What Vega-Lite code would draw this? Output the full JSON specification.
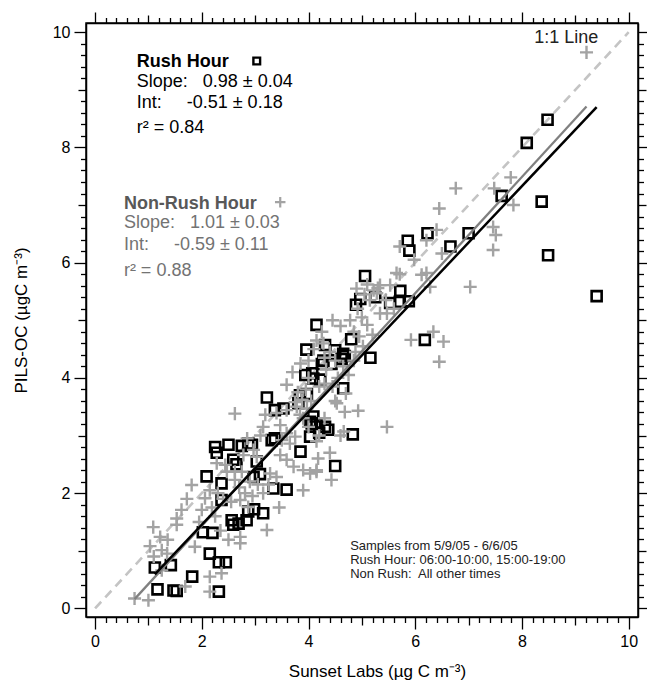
{
  "$schema": "https://vega.github.io/schema/vega-lite/v6.json",
  "width": 552,
  "height": 594,
  "autosize": {"type": "none"},
  "padding": {"left": 86, "top": 23, "right": 9, "bottom": 66},
  "background": "white",
  "config": {
    "view": {"stroke": "black", "strokeWidth": 1.5},
    "font": "Liberation Sans",
    "axis": {
      "grid": false,
      "tickColor": "black",
      "domainColor": "black",
      "domainWidth": 1.5,
      "tickWidth": 1.3,
      "labelFont": "Liberation Sans",
      "titleFont": "Liberation Sans",
      "labelFontSize": 16,
      "titleFontSize": 17,
      "titleFontWeight": "normal",
      "labelColor": "black",
      "titleColor": "black",
      "labelOverlap": false,
      "labelFlush": false,
      "labelPadding": 4
    }
  },
  "datasets": {
    "rush": [
      {"x": 8.48, "y": 8.48}, {"x": 8.09, "y": 8.08}, {"x": 7.62, "y": 7.16}, {"x": 8.37, "y": 7.06},
      {"x": 8.49, "y": 6.13}, {"x": 9.40, "y": 5.42}, {"x": 6.23, "y": 6.51}, {"x": 7.00, "y": 6.51},
      {"x": 6.66, "y": 6.28}, {"x": 5.86, "y": 6.38}, {"x": 5.89, "y": 6.21}, {"x": 5.06, "y": 5.77},
      {"x": 4.97, "y": 5.37}, {"x": 5.25, "y": 5.40}, {"x": 5.72, "y": 5.51}, {"x": 4.89, "y": 5.27},
      {"x": 5.53, "y": 5.30}, {"x": 5.71, "y": 5.32}, {"x": 5.88, "y": 5.33}, {"x": 6.18, "y": 4.66},
      {"x": 5.16, "y": 4.35}, {"x": 4.68, "y": 4.38}, {"x": 4.80, "y": 4.67}, {"x": 4.65, "y": 3.82},
      {"x": 4.83, "y": 3.02}, {"x": 4.50, "y": 2.47}, {"x": 4.15, "y": 4.92}, {"x": 3.96, "y": 4.49},
      {"x": 4.31, "y": 4.57}, {"x": 4.50, "y": 4.48}, {"x": 4.65, "y": 4.42}, {"x": 4.25, "y": 4.24},
      {"x": 4.43, "y": 4.24}, {"x": 4.62, "y": 4.33}, {"x": 4.28, "y": 4.30}, {"x": 3.94, "y": 4.05},
      {"x": 4.07, "y": 4.08}, {"x": 3.22, "y": 3.66}, {"x": 3.37, "y": 3.44}, {"x": 3.53, "y": 3.47},
      {"x": 3.81, "y": 3.56}, {"x": 4.09, "y": 3.33}, {"x": 4.06, "y": 3.21}, {"x": 4.31, "y": 3.15},
      {"x": 4.37, "y": 3.10}, {"x": 4.20, "y": 3.05}, {"x": 4.15, "y": 3.20}, {"x": 3.85, "y": 2.72},
      {"x": 3.34, "y": 2.08}, {"x": 3.59, "y": 2.06}, {"x": 3.15, "y": 1.65}, {"x": 2.98, "y": 1.72},
      {"x": 3.31, "y": 2.92}, {"x": 2.87, "y": 2.86}, {"x": 2.94, "y": 2.84}, {"x": 2.75, "y": 2.82},
      {"x": 2.50, "y": 2.84}, {"x": 2.25, "y": 2.80}, {"x": 2.28, "y": 2.70}, {"x": 2.65, "y": 2.50},
      {"x": 2.09, "y": 2.29}, {"x": 2.37, "y": 2.17}, {"x": 3.09, "y": 2.33}, {"x": 2.97, "y": 2.28},
      {"x": 2.37, "y": 1.88}, {"x": 2.56, "y": 1.53}, {"x": 2.69, "y": 1.47}, {"x": 2.59, "y": 1.45},
      {"x": 2.84, "y": 1.53}, {"x": 2.87, "y": 1.68}, {"x": 2.15, "y": 0.95}, {"x": 2.32, "y": 0.80},
      {"x": 2.45, "y": 0.80}, {"x": 2.02, "y": 1.32}, {"x": 2.20, "y": 1.31}, {"x": 1.12, "y": 0.71},
      {"x": 1.42, "y": 0.75}, {"x": 1.82, "y": 0.55}, {"x": 1.17, "y": 0.33}, {"x": 1.47, "y": 0.31},
      {"x": 1.53, "y": 0.30}, {"x": 2.32, "y": 0.29}, {"x": 3.37, "y": 2.95}, {"x": 4.03, "y": 2.98},
      {"x": 4.03, "y": 3.24}, {"x": 2.59, "y": 2.58}, {"x": 3.03, "y": 2.55}, {"x": 3.97, "y": 3.72},
      {"x": 3.84, "y": 3.70}, {"x": 4.09, "y": 3.99}, {"x": 4.22, "y": 3.97}
    ],
    "nonrush": [
      {"x": 9.21, "y": 9.65}, {"x": 7.79, "y": 7.48}, {"x": 7.48, "y": 7.29}, {"x": 7.84, "y": 7.00},
      {"x": 6.76, "y": 7.29}, {"x": 6.45, "y": 6.94}, {"x": 6.40, "y": 6.57}, {"x": 7.46, "y": 6.62},
      {"x": 7.51, "y": 6.48}, {"x": 7.46, "y": 6.22}, {"x": 5.71, "y": 6.28}, {"x": 6.50, "y": 6.16},
      {"x": 6.21, "y": 6.39}, {"x": 5.98, "y": 6.05}, {"x": 5.71, "y": 5.80}, {"x": 6.12, "y": 5.79},
      {"x": 6.21, "y": 5.82}, {"x": 7.03, "y": 5.58}, {"x": 5.30, "y": 5.56}, {"x": 5.53, "y": 5.61},
      {"x": 6.28, "y": 5.58}, {"x": 5.92, "y": 4.66}, {"x": 6.34, "y": 4.80}, {"x": 6.53, "y": 4.63},
      {"x": 6.45, "y": 4.28}, {"x": 4.70, "y": 3.73}, {"x": 4.68, "y": 3.41}, {"x": 4.93, "y": 3.43},
      {"x": 5.47, "y": 3.15}, {"x": 4.66, "y": 3.07}, {"x": 5.65, "y": 5.82}, {"x": 5.34, "y": 5.61},
      {"x": 5.22, "y": 5.52}, {"x": 5.10, "y": 5.62}, {"x": 5.28, "y": 5.47}, {"x": 5.15, "y": 5.35},
      {"x": 5.34, "y": 5.12}, {"x": 5.47, "y": 5.12}, {"x": 4.78, "y": 5.00}, {"x": 4.85, "y": 4.80},
      {"x": 4.95, "y": 4.72}, {"x": 5.10, "y": 4.92}, {"x": 5.20, "y": 4.75}, {"x": 5.00, "y": 5.05},
      {"x": 4.92, "y": 5.20}, {"x": 5.05, "y": 5.45}, {"x": 4.90, "y": 5.55}, {"x": 5.45, "y": 5.35},
      {"x": 5.60, "y": 5.20}, {"x": 5.02, "y": 4.55}, {"x": 4.88, "y": 4.45}, {"x": 4.28, "y": 4.60},
      {"x": 4.40, "y": 4.45}, {"x": 4.50, "y": 4.30}, {"x": 4.65, "y": 4.20}, {"x": 4.75, "y": 4.05},
      {"x": 4.85, "y": 4.30}, {"x": 4.30, "y": 4.35}, {"x": 4.33, "y": 4.15}, {"x": 4.30, "y": 3.90},
      {"x": 4.20, "y": 3.85}, {"x": 3.80, "y": 3.75}, {"x": 3.95, "y": 3.80}, {"x": 3.88, "y": 3.62},
      {"x": 3.75, "y": 3.58}, {"x": 4.05, "y": 3.60}, {"x": 3.59, "y": 3.88}, {"x": 4.45, "y": 3.85},
      {"x": 4.55, "y": 4.00}, {"x": 4.50, "y": 3.60}, {"x": 3.85, "y": 4.25}, {"x": 4.00, "y": 4.30},
      {"x": 4.10, "y": 4.50}, {"x": 4.15, "y": 4.65}, {"x": 4.25, "y": 4.80}, {"x": 4.45, "y": 5.00},
      {"x": 4.60, "y": 4.90}, {"x": 3.70, "y": 4.10}, {"x": 4.00, "y": 4.00}, {"x": 3.19, "y": 3.36},
      {"x": 3.40, "y": 3.39}, {"x": 3.59, "y": 3.44}, {"x": 3.78, "y": 3.50}, {"x": 3.84, "y": 3.36},
      {"x": 3.97, "y": 3.47}, {"x": 3.47, "y": 3.18}, {"x": 3.59, "y": 3.04}, {"x": 3.75, "y": 2.98},
      {"x": 3.50, "y": 2.92}, {"x": 3.65, "y": 2.86}, {"x": 2.97, "y": 2.75}, {"x": 2.78, "y": 2.66},
      {"x": 3.03, "y": 2.63}, {"x": 3.47, "y": 2.66}, {"x": 2.28, "y": 2.52}, {"x": 2.44, "y": 2.49},
      {"x": 2.62, "y": 2.37}, {"x": 3.59, "y": 2.58}, {"x": 3.72, "y": 2.46}, {"x": 3.90, "y": 2.40},
      {"x": 4.03, "y": 2.34}, {"x": 4.15, "y": 2.40}, {"x": 4.18, "y": 2.60}, {"x": 3.28, "y": 2.34},
      {"x": 3.40, "y": 2.28}, {"x": 4.30, "y": 3.30}, {"x": 4.20, "y": 3.00}, {"x": 4.15, "y": 2.90},
      {"x": 4.40, "y": 2.70}, {"x": 4.60, "y": 3.00}, {"x": 4.00, "y": 3.15}, {"x": 3.90, "y": 3.30},
      {"x": 3.10, "y": 3.00}, {"x": 2.85, "y": 2.95}, {"x": 3.15, "y": 3.15}, {"x": 2.62, "y": 3.38},
      {"x": 3.15, "y": 2.00}, {"x": 3.25, "y": 2.15}, {"x": 3.45, "y": 1.75}, {"x": 2.90, "y": 2.20},
      {"x": 2.70, "y": 2.10}, {"x": 2.55, "y": 1.85}, {"x": 2.40, "y": 1.90}, {"x": 2.30, "y": 2.00},
      {"x": 2.00, "y": 1.71}, {"x": 2.06, "y": 1.91}, {"x": 2.15, "y": 2.05}, {"x": 1.81, "y": 2.14},
      {"x": 2.47, "y": 2.37}, {"x": 2.62, "y": 2.23}, {"x": 2.75, "y": 2.37}, {"x": 2.72, "y": 1.88},
      {"x": 2.87, "y": 1.76}, {"x": 2.81, "y": 2.00}, {"x": 2.19, "y": 1.75}, {"x": 2.25, "y": 1.60},
      {"x": 2.50, "y": 1.19}, {"x": 2.72, "y": 1.24}, {"x": 1.87, "y": 1.07}, {"x": 1.53, "y": 1.45},
      {"x": 1.62, "y": 1.71}, {"x": 1.53, "y": 1.56}, {"x": 1.72, "y": 1.90}, {"x": 1.95, "y": 1.50},
      {"x": 2.35, "y": 1.35}, {"x": 2.95, "y": 1.95}, {"x": 3.05, "y": 2.15}, {"x": 2.15, "y": 0.55},
      {"x": 2.37, "y": 0.61}, {"x": 2.15, "y": 0.29}, {"x": 1.69, "y": 0.38}, {"x": 1.25, "y": 0.66},
      {"x": 0.74, "y": 0.17}, {"x": 1.00, "y": 0.14}, {"x": 1.09, "y": 1.41}, {"x": 1.03, "y": 1.08},
      {"x": 1.25, "y": 1.01}, {"x": 1.22, "y": 1.24}, {"x": 1.36, "y": 1.19}, {"x": 1.10, "y": 0.90},
      {"x": 1.35, "y": 0.95}, {"x": 3.22, "y": 1.36}, {"x": 3.90, "y": 2.05}, {"x": 4.15, "y": 2.37},
      {"x": 4.43, "y": 2.23}, {"x": 2.72, "y": 1.13}, {"x": 4.53, "y": 3.56}
    ],
    "oneone": [{"x": 0, "y": 0}, {"x": 10, "y": 10}],
    "fitRush": [{"x": 1.12, "y": 0.59}, {"x": 9.40, "y": 8.70}],
    "fitNon": [{"x": 0.74, "y": 0.16}, {"x": 9.21, "y": 8.71}],
    "legRush": [{"x": 3.03, "y": 9.50}],
    "legNon": [{"x": 3.47, "y": 7.05}],
    "rushTitle": [{"x": 0.78, "y": 9.40, "t": "Rush Hour"}],
    "rushStats": [
      {"x": 0.78, "y": 9.05, "t": "Slope:\u00a0\u00a0 0.98 ± 0.04"},
      {"x": 0.78, "y": 8.68, "t": "Int:\u00a0\u00a0\u00a0\u00a0 -0.51 ± 0.18"},
      {"x": 0.78, "y": 8.25, "t": "r² = 0.84"}
    ],
    "nonTitle": [{"x": 0.54, "y": 6.94, "t": "Non-Rush Hour"}],
    "nonStats": [
      {"x": 0.54, "y": 6.60, "t": "Slope:\u00a0\u00a0 1.01 ± 0.03"},
      {"x": 0.54, "y": 6.22, "t": "Int:\u00a0\u00a0\u00a0\u00a0 -0.59 ± 0.11"},
      {"x": 0.54, "y": 5.77, "t": "r² = 0.88"}
    ],
    "lineLabel": [{"x": 9.43, "y": 9.81, "t": "1:1 Line"}],
    "notes": [
      {"x": 4.78, "y": 1.02, "t": "Samples from 5/9/05 - 6/6/05"},
      {"x": 4.78, "y": 0.77, "t": "Rush Hour: 06:00-10:00, 15:00-19:00"},
      {"x": 4.78, "y": 0.52, "t": "Non Rush:\u00a0 All other times"}
    ]
  },
  "layer": [
    {
      "data": {"name": "oneone"},
      "mark": {"type": "line", "color": "#c4c4c4", "strokeWidth": 2.6, "strokeDash": [9, 6], "clip": true},
      "encoding": {
        "x": {"field": "x", "type": "quantitative", "scale": {"domain": [-0.17, 10.175], "nice": false, "zero": false}, "axis": null},
        "y": {"field": "y", "type": "quantitative", "scale": {"domain": [-0.15, 10.16], "nice": false, "zero": false}, "axis": null}
      }
    },
    {
      "data": {"name": "rush"},
      "mark": {"type": "point", "shape": "square", "filled": false, "color": "black", "strokeWidth": 2.6, "size": 100, "opacity": 1},
      "encoding": {
        "x": {
          "field": "x", "type": "quantitative",
          "axis": {
            "orient": "bottom",
            "title": "Sunset Labs (µg C m⁻³)",
            "titlePadding": 14,
            "titleX": 291,
            "values": [0,0.2,0.4,0.6,0.8,1,1.2,1.4,1.6,1.8,2,2.2,2.4,2.6,2.8,3,3.2,3.4,3.6,3.8,4,4.2,4.4,4.6,4.8,5,5.2,5.4,5.6,5.8,6,6.2,6.4,6.6,6.8,7,7.2,7.4,7.6,7.8,8,8.2,8.4,8.6,8.8,9,9.2,9.4,9.6,9.8,10],
            "labelExpr": "abs(datum.value/2 - round(datum.value/2)) < 0.01 ? format(datum.value, '.0f') : ''",
            "tickSize": {"condition": [{"test": "abs(datum.value/2 - round(datum.value/2)) < 0.01", "value": 12}, {"test": "abs(datum.value - round(datum.value)) < 0.01", "value": 8}], "value": 5.5}
          }
        },
        "y": {
          "field": "y", "type": "quantitative",
          "axis": {
            "orient": "left",
            "title": "PILS-OC (µgC m⁻³)",
            "titlePadding": 22,
            "values": [0,0.2,0.4,0.6,0.8,1,1.2,1.4,1.6,1.8,2,2.2,2.4,2.6,2.8,3,3.2,3.4,3.6,3.8,4,4.2,4.4,4.6,4.8,5,5.2,5.4,5.6,5.8,6,6.2,6.4,6.6,6.8,7,7.2,7.4,7.6,7.8,8,8.2,8.4,8.6,8.8,9,9.2,9.4,9.6,9.8,10],
            "labelExpr": "abs(datum.value/2 - round(datum.value/2)) < 0.01 ? format(datum.value, '.0f') : ''",
            "tickSize": {"condition": [{"test": "abs(datum.value/2 - round(datum.value/2)) < 0.01", "value": 12}, {"test": "abs(datum.value - round(datum.value)) < 0.01", "value": 8}], "value": 5.5}
          }
        }
      }
    },
    {
      "data": {"name": "nonrush"},
      "mark": {"type": "point", "shape": "M-1,0H1M0,-1V1", "filled": false, "color": "#a3a3a3", "strokeWidth": 2.4, "size": 170, "opacity": 1},
      "encoding": {
        "x": {
          "field": "x", "type": "quantitative",
          "axis": {
            "orient": "top", "title": null, "labels": false,
            "values": [0,0.2,0.4,0.6,0.8,1,1.2,1.4,1.6,1.8,2,2.2,2.4,2.6,2.8,3,3.2,3.4,3.6,3.8,4,4.2,4.4,4.6,4.8,5,5.2,5.4,5.6,5.8,6,6.2,6.4,6.6,6.8,7,7.2,7.4,7.6,7.8,8,8.2,8.4,8.6,8.8,9,9.2,9.4,9.6,9.8,10],
            "tickSize": {"condition": [{"test": "abs(datum.value/2 - round(datum.value/2)) < 0.01", "value": 11}, {"test": "abs(datum.value - round(datum.value)) < 0.01", "value": 8}], "value": 5.5}
          }
        },
        "y": {
          "field": "y", "type": "quantitative",
          "axis": {
            "orient": "right", "title": null, "labels": false,
            "values": [0,0.2,0.4,0.6,0.8,1,1.2,1.4,1.6,1.8,2,2.2,2.4,2.6,2.8,3,3.2,3.4,3.6,3.8,4,4.2,4.4,4.6,4.8,5,5.2,5.4,5.6,5.8,6,6.2,6.4,6.6,6.8,7,7.2,7.4,7.6,7.8,8,8.2,8.4,8.6,8.8,9,9.2,9.4,9.6,9.8,10],
            "tickSize": {"condition": [{"test": "abs(datum.value/2 - round(datum.value/2)) < 0.01", "value": 11}, {"test": "abs(datum.value - round(datum.value)) < 0.01", "value": 8}], "value": 5.5}
          }
        }
      }
    },
    {
      "data": {"name": "fitNon"},
      "mark": {"type": "line", "color": "#808080", "strokeWidth": 2.3},
      "encoding": {
        "x": {"field": "x", "type": "quantitative", "axis": null},
        "y": {"field": "y", "type": "quantitative", "axis": null}
      }
    },
    {
      "data": {"name": "fitRush"},
      "mark": {"type": "line", "color": "black", "strokeWidth": 2.5},
      "encoding": {
        "x": {"field": "x", "type": "quantitative", "axis": null},
        "y": {"field": "y", "type": "quantitative", "axis": null}
      }
    },
    {
      "data": {"name": "legRush"},
      "mark": {"type": "point", "shape": "square", "filled": false, "color": "black", "strokeWidth": 2.4, "size": 45, "opacity": 1},
      "encoding": {
        "x": {"field": "x", "type": "quantitative", "axis": null},
        "y": {"field": "y", "type": "quantitative", "axis": null}
      }
    },
    {
      "data": {"name": "legNon"},
      "mark": {"type": "point", "shape": "M-1,0H1M0,-1V1", "filled": false, "color": "#a3a3a3", "strokeWidth": 2.2, "size": 110, "opacity": 1},
      "encoding": {
        "x": {"field": "x", "type": "quantitative", "axis": null},
        "y": {"field": "y", "type": "quantitative", "axis": null}
      }
    },
    {
      "data": {"name": "rushTitle"},
      "mark": {"type": "text", "align": "left", "baseline": "alphabetic", "fontSize": 18, "fontWeight": "bold", "color": "black", "font": "Liberation Sans"},
      "encoding": {
        "x": {"field": "x", "type": "quantitative", "axis": null},
        "y": {"field": "y", "type": "quantitative", "axis": null},
        "text": {"field": "t"}
      }
    },
    {
      "data": {"name": "rushStats"},
      "mark": {"type": "text", "align": "left", "baseline": "alphabetic", "fontSize": 18, "color": "black", "font": "Liberation Sans"},
      "encoding": {
        "x": {"field": "x", "type": "quantitative", "axis": null},
        "y": {"field": "y", "type": "quantitative", "axis": null},
        "text": {"field": "t"}
      }
    },
    {
      "data": {"name": "nonTitle"},
      "mark": {"type": "text", "align": "left", "baseline": "alphabetic", "fontSize": 18, "fontWeight": "bold", "color": "#585858", "font": "Liberation Sans"},
      "encoding": {
        "x": {"field": "x", "type": "quantitative", "axis": null},
        "y": {"field": "y", "type": "quantitative", "axis": null},
        "text": {"field": "t"}
      }
    },
    {
      "data": {"name": "nonStats"},
      "mark": {"type": "text", "align": "left", "baseline": "alphabetic", "fontSize": 18, "color": "#737373", "font": "Liberation Sans"},
      "encoding": {
        "x": {"field": "x", "type": "quantitative", "axis": null},
        "y": {"field": "y", "type": "quantitative", "axis": null},
        "text": {"field": "t"}
      }
    },
    {
      "data": {"name": "lineLabel"},
      "mark": {"type": "text", "align": "right", "baseline": "alphabetic", "fontSize": 18, "color": "#222222", "font": "Liberation Sans"},
      "encoding": {
        "x": {"field": "x", "type": "quantitative", "axis": null},
        "y": {"field": "y", "type": "quantitative", "axis": null},
        "text": {"field": "t"}
      }
    },
    {
      "data": {"name": "notes"},
      "mark": {"type": "text", "align": "left", "baseline": "alphabetic", "fontSize": 13, "color": "#222222", "font": "Liberation Sans"},
      "encoding": {
        "x": {"field": "x", "type": "quantitative", "axis": null},
        "y": {"field": "y", "type": "quantitative", "axis": null},
        "text": {"field": "t"}
      }
    }
  ],
  "resolve": {"axis": {"x": "independent", "y": "independent"}}
}
